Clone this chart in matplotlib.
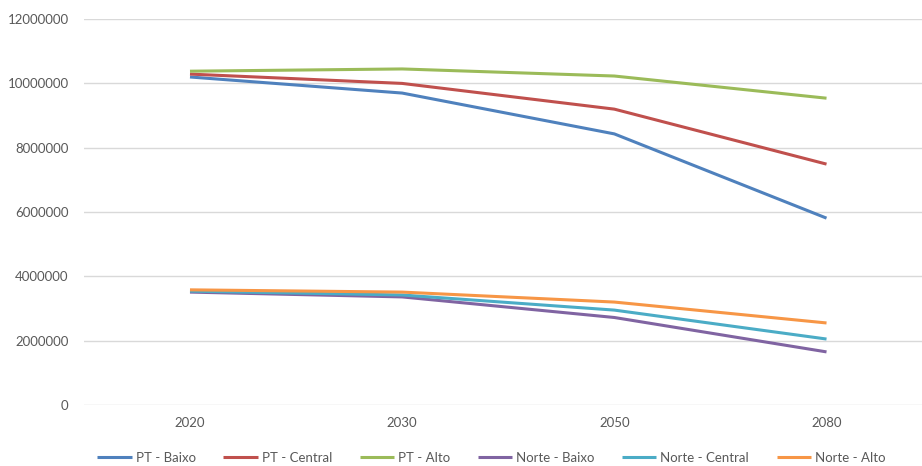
import matplotlib
matplotlib.use('Agg')
import matplotlib.pyplot as plt
from matplotlib.ticker import FormatStrFormatter

# Categories and series
years = ['2020', '2030', '2050', '2080']
pt_baixo = [10200000, 9700000, 8430000, 5810000]
pt_central = [10290000, 10000000, 9200000, 7490000]
pt_alto = [10380000, 10450000, 10230000, 9540000]
norte_baixo = [3510000, 3360000, 2720000, 1650000]
norte_central = [3540000, 3420000, 2950000, 2050000]
norte_alto = [3580000, 3510000, 3200000, 2550000]

series = [
    ('PT - Baixo', pt_baixo, '#4F81BD'),
    ('PT - Central', pt_central, '#C0504D'),
    ('PT - Alto', pt_alto, '#9BBB59'),
    ('Norte - Baixo', norte_baixo, '#8064A2'),
    ('Norte - Central', norte_central, '#4BACC6'),
    ('Norte - Alto', norte_alto, '#F79646'),
]

plt.rcParams['font.family'] = ['Lato', 'DejaVu Sans']

fig = plt.figure(figsize=(9.22, 4.66), dpi=100)
ax = fig.add_axes([0.091, 0.131, 0.909, 0.828])

x = range(len(years))
for label, vals, color in series:
    ax.plot(x, vals, color=color, lw=2.2, label=label, solid_capstyle='butt')

ax.set_ylim(0, 12000000)
ax.set_yticks(range(0, 12000001, 2000000))
ax.yaxis.set_major_formatter(FormatStrFormatter('%d'))
ax.set_xlim(-0.5, 3.45)
ax.set_xticks(list(x))
ax.set_xticklabels(years)
ax.grid(axis='y', color='#D9D9D9', lw=1)
ax.set_axisbelow(True)
for s in ax.spines.values():
    s.set_visible(False)
ax.tick_params(length=0, colors='#595959', labelsize=9.5)
ax.tick_params(axis='y', pad=11)
ax.tick_params(axis='x', pad=9)

leg = fig.legend(loc='center', bbox_to_anchor=(0.533, 0.018), ncol=6, frameon=False,
                 fontsize=9.5, handlelength=2.6, handletextpad=0.3, columnspacing=2.1)
for t in leg.get_texts():
    t.set_color('#595959')

fig.savefig('out.png', dpi=100)
